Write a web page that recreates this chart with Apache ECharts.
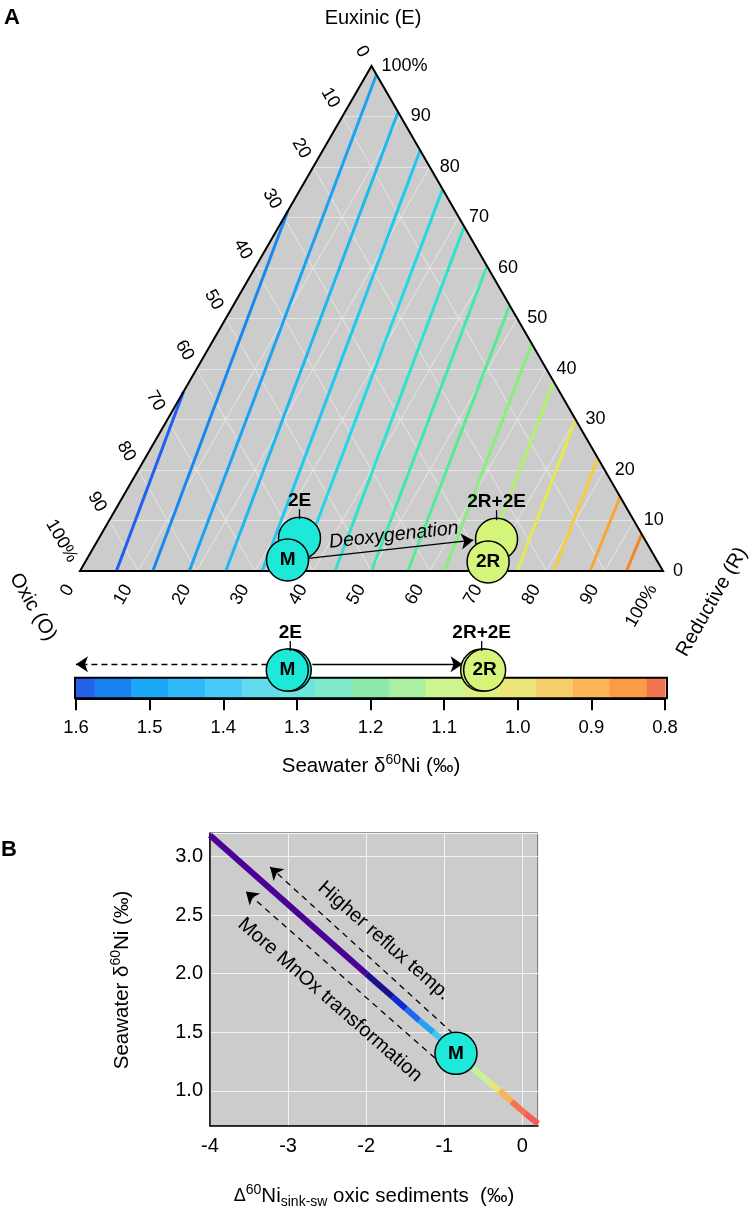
<!DOCTYPE html>
<html><head><meta charset="utf-8">
<script src="https://cdn.jsdelivr.net/npm/echarts@6/dist/echarts.min.js"></script>
<style>html,body{margin:0;padding:0;background:#fff}#c{width:750px;height:1211px}</style>
</head><body><div id="c"></div>
<script>
// ================= DATA =================
// Ternary axis ticks (percent) and labels
const ternTicks = [0,10,20,30,40,50,60,70,80,90,100];
const ternTickLabels = ['0','10','20','30','40','50','60','70','80','90','100%'];
// Seawater d60Ni contour levels drawn inside the ternary
const contourLevels = [1.55,1.50,1.45,1.40,1.35,1.30,1.25,1.20,1.15,1.10,1.05,1.00,0.95,0.90,0.85];
// start of each contour on the Oxic-Reductive edge (E = 0): Reductive %
const contourStartR = [6.25,12.5,18.75,25,31.25,37.5,43.75,50,56.25,62.5,68.75,75,81.25,87.5,93.75];
// end of each contour: Reductive % and Euxinic %
const contourEndR = [0,0,1.7,9.1,16.7,24.4,31.8,39.6,47.4,55.0,62.5,70.0,77.7,85.3,92.7];
const contourEndE = [35.5,71.3,98.3,90.9,83.3,75.6,68.2,60.4,52.6,45.0,37.5,30.0,22.3,14.7,7.3];
// Scenarios (ternary position and resulting seawater d60Ni)
const pointNames = ['2E','M','2R+2E','2R'];
const pointR = [34.4,34.5,68.3,69.1];
const pointE = [6.5,2.2,6.3,1.8];
const pointD = [1.309,1.313,1.049,1.045];
// Deoxygenation arrow (ternary R %, E %)
const deoxR = [37.9,64.4];
const deoxE = [2.5,6.1];
// Colour bar
const barTicks = [1.6,1.5,1.4,1.3,1.2,1.1,1.0,0.9,0.8];
const barBreaks = [1.6,1.575,1.525,1.475,1.425,1.375,1.325,1.275,1.225,1.175,1.125,1.075,1.025,0.975,0.925,0.875,0.825,0.8];
const rowDashedArrow = [1.34,1.6];
const rowSolidArrow = [1.279,1.075];
// Panel B: seawater d60Ni vs D60Ni(sink-sw) of oxic sediments
const bX = [-4,-2,-1.66,-1.49,-1.32,-1.14,-0.97,-0.63,-0.42,-0.29,-0.14,0.03,0.2];
const bY = [3.18,2.0,1.80,1.70,1.60,1.50,1.40,1.19,1.07,1.00,0.91,0.81,0.72];
const bM = [-0.85,1.32];
const refluxArrowX = [-0.89,-3.23], refluxArrowY = [1.49,2.91];
const mnoxArrowX = [-1.12,-3.54], mnoxArrowY = [1.28,2.70];
const bXTicks = [-4,-3,-2,-1,0];

// ================= STYLE PALETTES =================
const contourColors = ['#1f5ff2','#1a86f2','#1aa3f2','#1db8f0','#20c8f0','#22d8e6','#2ee2cc','#3ee8b0','#55ec95','#85f07a','#b4f06a','#e2ea4c','#f6cc3c','#f8a632','#f88424'];
const barColors = ['#2462ea','#1681f1','#1aa7f6','#31b8f8','#49c8fa','#62dbec','#6ee5dc','#7feaca','#8de9aa','#a9f0a0','#ccf690','#dfee82','#ede47a','#f6cf6a','#fcb555','#fb9b44','#f0744f'];
const bColors = ['#4b0096','#17118c','#0a2ad6','#1f66f2','#22a2f6','#45c6f2','#6be4dc','#c6f29a','#e9e676','#f9b454','#f27550','#f95a5a'];
const CYAN = '#1ee8d8', LIME = '#d4f47a';
const FF = '"Liberation Sans", Arial, Helvetica, sans-serif';

const S = Math.sqrt(3)/2;
function tern(R, E){ return [R/100 + E/200, E/100*S]; }

// ternary grid lines from tick values
const gridLines = [];
ternTicks.slice(1,-1).forEach(t => {
  gridLines.push({coords:[tern(0,t), tern(100-t,t)]});
  gridLines.push({coords:[tern(t,0), tern(t,100-t)]});
  gridLines.push({coords:[tern(100-t,0), tern(0,100-t)]});
});
const contourData = contourLevels.map((v,i) => ({
  name: String(v),
  coords:[tern(contourStartR[i],0), tern(contourEndR[i],contourEndE[i])],
  lineStyle:{color: contourColors[i]}
}));

const ROW_Y = 1.37, ARROW_Y = 1.65;
function ptColor(n){ return n.indexOf('R') >= 0 ? LIME : CYAN; }
function ptLabel(n){
  const behind = (n === '2E' || n === '2R+2E');
  return behind
    ? {show:true, position:'top', distance:6, formatter:'{b}', color:'#000', fontWeight:'bold', fontSize:19, lineHeight:19, fontFamily:FF}
    : {show:true, position:'inside', formatter:'{b}', color:'#000', fontWeight:'bold', fontSize:19, fontFamily:FF};
}
const tickRender = (params, api) => {
  const c = api.coord([api.value(0), api.value(1)]);
  return {type:'line', shape:{x1:c[0], y1:c[1]-29, x2:c[0], y2:c[1]-19}, style:{stroke:'#000', lineWidth:1.3}};
};

const bSegs = [];
for (let i = 0; i < bX.length-1; i++) {
  bSegs.push({coords:[[bX[i],bY[i]],[bX[i+1],bY[i+1]]], lineStyle:{color:bColors[i]}});
}
const barBlocks = [];
for (let i = 0; i < barBreaks.length-1; i++) barBlocks.push([barBreaks[i], barBreaks[i+1], i]);

const option = {
  animation:false,
  backgroundColor:'#fff',
  textStyle:{fontFamily:FF},
  grid:[
    {left:80, top:66, width:583, height:505, show:false},
    {left:76, top:630, width:589, height:68.3, show:false},
    {left:210, top:833, width:328, height:293, show:true, backgroundColor:'#cccccc', borderColor:'#333', borderWidth:1}
  ],
  xAxis:[
    {gridIndex:0, type:'value', min:0, max:1, show:false},
    {gridIndex:1, type:'value', min:0.8, max:1.6, inverse:true, interval:0.1,
      axisLine:{show:true, onZero:false, lineStyle:{color:'#000', width:2}},
      axisTick:{show:true, length:12, lineStyle:{color:'#000', width:2}},
      axisLabel:{margin:20, fontSize:18.5, color:'#000', fontFamily:FF, formatter:v=>v.toFixed(1)},
      splitLine:{show:false}},
    {gridIndex:2, type:'value', min:-4, max:0.2, interval:1,
      axisLine:{show:true, onZero:false, lineStyle:{color:'#000', width:1.5}},
      axisTick:{show:false},
      axisLabel:{margin:10, fontSize:20, color:'#000', fontFamily:FF, showMaxLabel:false, showMinLabel:true},
      splitLine:{show:true, lineStyle:{color:'#f2f2f2', width:1}}}
  ],
  yAxis:[
    {gridIndex:0, type:'value', min:0, max:S, show:false},
    {gridIndex:1, type:'value', min:0, max:3.315, show:false},
    {gridIndex:2, type:'value', min:0.7, max:3.2, splitNumber:5,
      axisLine:{show:true, onZero:false, lineStyle:{color:'#000', width:1.5}},
      axisTick:{show:false},
      axisLabel:{margin:7, fontSize:20, color:'#000', fontFamily:FF, showMinLabel:false, showMaxLabel:false, formatter:v=>v.toFixed(1)},
      splitLine:{show:true, lineStyle:{color:'#f2f2f2', width:1}}}
  ],
  series:[
    // triangle fill
    {type:'custom', xAxisIndex:0, yAxisIndex:0, z:1, clip:false, silent:true, data:[[0,0]],
      renderItem:(p, api) => ({type:'polygon', shape:{points:[api.coord(tern(0,0)), api.coord(tern(100,0)), api.coord(tern(0,100))]}, style:{fill:'#cccccc', stroke:null}})},
    // ternary grid
    {type:'lines', coordinateSystem:'cartesian2d', xAxisIndex:0, yAxisIndex:0, z:2, silent:true,
      lineStyle:{color:'#e6e6e6', width:1, opacity:1}, data:gridLines},
    // contours
    {type:'lines', coordinateSystem:'cartesian2d', xAxisIndex:0, yAxisIndex:0, z:3, silent:true,
      lineStyle:{width:3, opacity:1, cap:'butt'}, data:contourData},
    // triangle border
    {type:'custom', xAxisIndex:0, yAxisIndex:0, z:4, clip:false, silent:true, data:[[0,0]],
      renderItem:(p, api) => ({type:'polygon', shape:{points:[api.coord(tern(0,0)), api.coord(tern(100,0)), api.coord(tern(0,100))]}, style:{fill:'none', stroke:'#000', lineWidth:2, lineJoin:'miter'}})},
    // deoxygenation arrow
    {type:'lines', coordinateSystem:'cartesian2d', xAxisIndex:0, yAxisIndex:0, z:5, silent:true,
      symbol:['none','arrow'], symbolSize:[0,12],
      lineStyle:{color:'#000', width:1.3, opacity:1},
      data:[{coords:[tern(deoxR[0],deoxE[0]), tern(deoxR[1],deoxE[1])]}]},
    // ternary points
    {type:'scatter', xAxisIndex:0, yAxisIndex:0, z:6, symbolSize:42,
      itemStyle:{borderColor:'#000', borderWidth:1.5, opacity:1},
      data: pointNames.map((n,i) => ({name:n, value:tern(pointR[i],pointE[i]), itemStyle:{color:ptColor(n)}, label:ptLabel(n)}))},
    {type:'custom', xAxisIndex:0, yAxisIndex:0, z:7, clip:false, silent:true,
      data: pointNames.map((n,i) => [tern(pointR[i],pointE[i])[0], tern(pointR[i],pointE[i])[1], n]).filter(d => d[2]==='2E' || d[2]==='2R+2E'),
      renderItem: tickRender},
    // colour bar blocks
    {type:'custom', xAxisIndex:1, yAxisIndex:1, z:2, clip:false, silent:true, data:barBlocks,
      renderItem:(p, api) => {
        const a = api.coord([api.value(0), 1]), b = api.coord([api.value(1), 0]);
        return {type:'rect', shape:{x:a[0], y:a[1], width:b[0]-a[0]+0.6, height:b[1]-a[1]}, style:{fill:barColors[api.value(2)]}};
      }},
    {type:'custom', xAxisIndex:1, yAxisIndex:1, z:3, clip:false, silent:true, data:[[barBreaks[0], barBreaks[barBreaks.length-1]]],
      renderItem:(p, api) => {
        const a = api.coord([api.value(0), 1]), b = api.coord([api.value(1), 0]);
        return {type:'rect', shape:{x:a[0]-1, y:a[1], width:b[0]-a[0]+3, height:b[1]-a[1]}, style:{fill:'none', stroke:'#000', lineWidth:2}};
      }},
    // colour bar row arrows
    {type:'lines', coordinateSystem:'cartesian2d', xAxisIndex:1, yAxisIndex:1, z:4, silent:true,
      symbol:['none','arrow'], symbolSize:[0,12],
      lineStyle:{color:'#000', width:1.3, opacity:1},
      data:[
        {coords:[[rowDashedArrow[0],ARROW_Y],[rowDashedArrow[1],ARROW_Y]], lineStyle:{type:[6,4]}},
        {coords:[[rowSolidArrow[0],ARROW_Y],[rowSolidArrow[1],ARROW_Y]]}
      ]},
    {type:'scatter', xAxisIndex:1, yAxisIndex:1, z:6, symbolSize:42,
      itemStyle:{borderColor:'#000', borderWidth:1.5, opacity:1},
      data: pointNames.map((n,i) => ({name:n, value:[pointD[i], ROW_Y], itemStyle:{color:ptColor(n)}, label:ptLabel(n)}))},
    {type:'custom', xAxisIndex:1, yAxisIndex:1, z:7, clip:false, silent:true,
      data: pointNames.map((n,i) => [pointD[i], ROW_Y, n]).filter(d => d[2]==='2E' || d[2]==='2R+2E'),
      renderItem: tickRender},
    // panel B line
    {type:'lines', coordinateSystem:'cartesian2d', xAxisIndex:2, yAxisIndex:2, z:3, silent:true,
      lineStyle:{width:6, opacity:1, cap:'butt'}, data:bSegs},
    // panel B dashed arrows
    {type:'lines', coordinateSystem:'cartesian2d', xAxisIndex:2, yAxisIndex:2, z:4, silent:true,
      symbol:['none','arrow'], symbolSize:[0,12],
      lineStyle:{color:'#000', width:1.3, opacity:1, type:[6,5]},
      data:[
        {coords:[[refluxArrowX[0],refluxArrowY[0]],[refluxArrowX[1],refluxArrowY[1]]]},
        {coords:[[mnoxArrowX[0],mnoxArrowY[0]],[mnoxArrowX[1],mnoxArrowY[1]]]}
      ]},
    {type:'scatter', xAxisIndex:2, yAxisIndex:2, z:6, symbolSize:42,
      itemStyle:{color:CYAN, borderColor:'#000', borderWidth:1.5, opacity:1},
      data:[{name:'M', value:bM, label:ptLabel('M')}]}
  ]
};

const chart = echarts.init(document.getElementById('c'), null, {renderer:'canvas', width:750, height:1211});
chart.setOption(option);

// ---------- text annotations positioned from the coordinate systems ----------
const px = (R,E) => chart.convertToPixel({gridIndex:0}, tern(R,E));
const g = [];
function txt(x, y, text, o){
  o = o || {};
  g.push({type:'text', x:x, y:y, rotation:o.rot||0, z:100, silent:true,
    style:Object.assign({text:text, fill:'#000', fontSize:o.size||18, fontFamily:FF, fontWeight:o.weight||'normal', fontStyle:o.style||'normal',
      align:o.align||'center', verticalAlign:o.va||'middle'}, o.extra||{})});
}
ternTicks.forEach((t,i) => {
  const lab = ternTickLabels[i];
  let p = px(t,0);            // bottom: Reductive
  txt(p[0]-10, p[1]+15, lab, {rot:Math.PI/3, align:'right'});
  p = px(100-t,t);            // right: Euxinic
  txt(p[0]+10, p[1], lab, {align:'left'});
  p = px(0,100-t);            // left: Oxic
  txt(p[0]-7, p[1]-10, lab, {rot:-Math.PI/3, align:'right'});
});
const dm0 = px(deoxR[0],deoxE[0]), dm1 = px(deoxR[1],deoxE[1]);
const dAng = Math.atan2(dm0[1]-dm1[1], dm1[0]-dm0[0]);
txt((dm0[0]+dm1[0])/2+3, (dm0[1]+dm1[1])/2-14, 'Deoxygenation', {size:19.5, style:'italic', rot:dAng});

txt(373, 18, 'Euxinic (E)', {size:20});
txt(33, 607, 'Oxic (O)', {size:20, rot:-Math.PI/3});
txt(712, 602, 'Reductive (R)', {size:20, rot:Math.PI/3});
txt(4, 18, 'A', {size:22, weight:'bold', align:'left'});
txt(1, 850, 'B', {size:22, weight:'bold', align:'left'});

const richSup = {
  n:{fontSize:20.5, lineHeight:26, fontFamily:FF, fill:'#000'},
  d:{fontSize:18, lineHeight:26, fontFamily:FF, fill:'#000'},
  sup:{fontSize:14, lineHeight:13, verticalAlign:'top', fontFamily:FF, fill:'#000'},
  sub:{fontSize:14, lineHeight:13, verticalAlign:'bottom', fontFamily:FF, fill:'#000'}
};
txt(371, 766, '{n|Seawater δ}{sup|60}{n|Ni (‰)}', {extra:{rich:richSup}});
txt(122, 980, '{n|Seawater δ}{sup|60}{n|Ni (‰)}', {rot:Math.PI/2, extra:{rich:richSup}});
txt(374, 1196, '{d|Δ}{sup|60}{n|Ni}{sub|sink-sw}{n| oxic sediments  (‰)}', {extra:{rich:richSup}});

// panel B slanted annotations
const pa = chart.convertToPixel({gridIndex:2}, [bX[0], bY[0]]);
const pb = chart.convertToPixel({gridIndex:2}, [bX[bX.length-1], bY[bY.length-1]]);
const bAng = -Math.atan2(pb[1]-pa[1], pb[0]-pa[0]);
txt(384, 941, 'Higher reflux temp.', {size:20, rot:bAng});
txt(330, 1000, 'More MnOx transformation', {size:20, rot:bAng});

chart.setOption({graphic:g});
</script>
</body></html>
